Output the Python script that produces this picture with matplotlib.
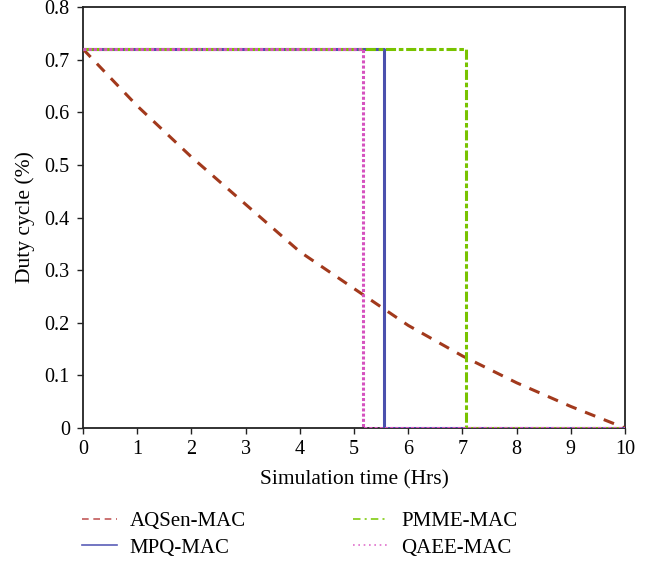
import matplotlib
matplotlib.use("Agg")
import matplotlib.pyplot as plt
from matplotlib.lines import Line2D

plt.rcParams['font.family'] = ['Liberation Serif', 'DejaVu Serif']
plt.rcParams['font.size'] = 15

# Simulation time (hours) and duty cycle for each protocol
aqsen_t = [0, 1, 2, 3, 4, 5, 6, 7, 8, 9, 10]
aqsen_duty = [0.72, 0.612, 0.515, 0.425, 0.335, 0.265, 0.195, 0.137, 0.086, 0.041, 0.0]

mpq_t = [0, 5.55, 5.55, 10]
mpq_duty = [0.72, 0.72, 0.0, 0.0]

pmme_t = [0, 7.07, 7.07, 10]
pmme_duty = [0.72, 0.72, 0.0, 0.0]

qaee_t = [0, 5.17, 5.17, 10]
qaee_duty = [0.72, 0.72, 0.0, 0.0]

labels = ["AQSen-MAC", "MPQ-MAC", "PMME-MAC", "QAEE-MAC"]
x_ticks = list(range(0, 11))
y_ticks = [0, 0.1, 0.2, 0.3, 0.4, 0.5, 0.6, 0.7, 0.8]
y_tick_labels = ["0", "0.1", "0.2", "0.3", "0.4", "0.5", "0.6", "0.7", "0.8"]

c_aqsen = "#a2391c"
c_mpq = "#4b50ad"
c_pmme = "#78c300"
c_qaee = "#d552bf"

ls_aqsen = (0, (3.6, 3.0))
ls_pmme = (0, (3.3, 0.9, 1.5, 0.9))
ls_qaee = (0, (1.0, 0.7))

fig = plt.figure(figsize=(6.61, 5.67), dpi=100)
ax = fig.add_axes([0.1256, 0.2451, 0.8199, 0.7426])

lw = 2.2
ax.plot(aqsen_t, aqsen_duty, color=c_aqsen, lw=lw, linestyle=ls_aqsen, zorder=3)
ax.plot(mpq_t, mpq_duty, color=c_mpq, lw=lw, linestyle='-', zorder=4)
ax.plot(pmme_t, pmme_duty, color=c_pmme, lw=lw, linestyle=ls_pmme, zorder=5)
ax.plot(qaee_t, qaee_duty, color=c_qaee, lw=lw, linestyle=ls_qaee, zorder=6)

ax.set_xlim(0, 10)
ax.set_ylim(0, 0.8)
ax.set_xticks(x_ticks)
ax.set_yticks(y_ticks)
ax.set_yticklabels(y_tick_labels)
ax.tick_params(direction='out', length=4.5, width=1, color='#222222', pad=4, labelsize=14.5)
ax.tick_params(axis='y', pad=5)
for s in ax.spines.values():
    s.set_linewidth(1.3)
    s.set_color('#222222')
ax.set_xlabel("Simulation time (Hrs)", labelpad=8, fontsize=15.5)
ax.set_ylabel("Duty cycle (%)", labelpad=7, fontsize=15.5)

handles = [
    Line2D([], [], color="#c25a5a", lw=1.2, linestyle=(0, (4.0, 2.8))),
    Line2D([], [], color="#5a5eb8", lw=1.2, linestyle='-'),
    Line2D([], [], color="#80cc10", lw=1.2, linestyle=(0, (4.5, 2.5, 1.2, 2.5))),
    Line2D([], [], color="#e070cc", lw=1.2, linestyle=(0, (1.0, 2.2))),
]
fig.legend(handles, labels, ncol=2, loc='center left', bbox_to_anchor=(0.1236, 0.057),
           frameon=False, borderpad=0, borderaxespad=0, handlelength=1.68,
           handletextpad=0.63, columnspacing=5.15, labelspacing=0.32, fontsize=15)

fig.savefig("out.png", dpi=100)
